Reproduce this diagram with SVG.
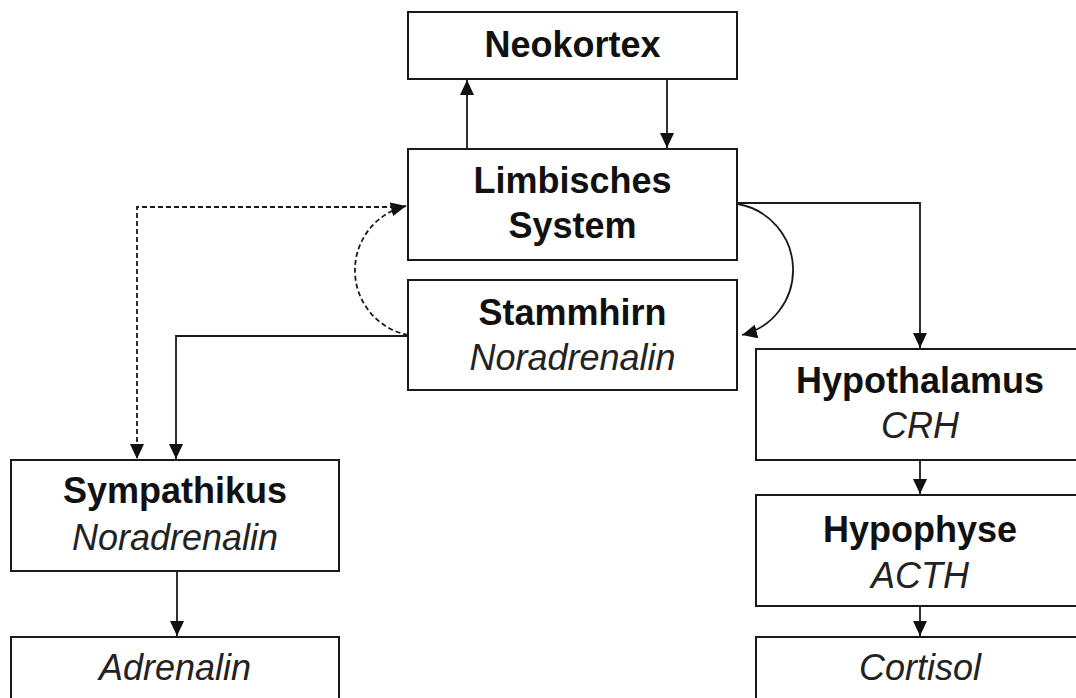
<svg xmlns="http://www.w3.org/2000/svg" width="1076" height="698" viewBox="0 0 1076 698">
  <style>
    .box { fill: #ffffff; stroke: #1a1a1a; stroke-width: 2; }
    .t { font-family: "Liberation Sans", Arial, sans-serif; font-size: 36px; fill: #111111; text-anchor: middle; }
    .b { font-weight: bold; }
    .i { font-style: italic; fill: #222222; }
    .edge { fill: none; stroke: #1a1a1a; stroke-width: 1.8; marker-end: url(#arrow); }
    .dash { stroke-dasharray: 5 3; }
  </style>
  <defs>
    <marker id="arrow" markerUnits="userSpaceOnUse" markerWidth="15" markerHeight="14" refX="15" refY="7" orient="auto">
      <path d="M0,0 L15,7 L0,14 z" fill="#111111"/>
    </marker>
  </defs>
  <rect width="1076" height="698" fill="#ffffff"/>

  <g id="connectors">
    <path class="edge" d="M467,149 V80"/>
    <path class="edge" d="M667,80 V148"/>
    <path class="edge" d="M738,203 H920 V348"/>
    <path class="edge" d="M738,204 A67,67 0 0 1 742,335"/>
    <path class="edge dash" d="M408,335 A66,66 0 0 1 406,206"/>
    <path class="edge dash" d="M395,207 H137 V459"/>
    <path class="edge" d="M408,336 H176 V459"/>
    <path class="edge" d="M177,572 V636"/>
    <path class="edge" d="M920,461 V494"/>
    <path class="edge" d="M920,607 V636"/>
  </g>

  <g id="neokortex">
    <rect class="box" x="408" y="12" width="329" height="67"/>
    <text class="t b" x="572.5" y="57">Neokortex</text>
  </g>
  <g id="limbisches-system">
    <rect class="box" x="408" y="149" width="329" height="111"/>
    <text class="t b" x="572.5" y="193">Limbisches</text>
    <text class="t b" x="572.5" y="238">System</text>
  </g>
  <g id="stammhirn">
    <rect class="box" x="408" y="280" width="329" height="110"/>
    <text class="t b" x="572.5" y="325">Stammhirn</text>
    <text class="t i" x="572.5" y="370">Noradrenalin</text>
  </g>
  <g id="sympathikus">
    <rect class="box" x="11" y="460" width="328" height="111"/>
    <text class="t b" x="175" y="503">Sympathikus</text>
    <text class="t i" x="175" y="550">Noradrenalin</text>
  </g>
  <g id="adrenalin">
    <rect class="box" x="11" y="637" width="328" height="80"/>
    <text class="t i" x="175" y="680">Adrenalin</text>
  </g>
  <g id="hypothalamus">
    <rect class="box" x="756" y="349" width="330" height="111"/>
    <text class="t b" x="920" y="393">Hypothalamus</text>
    <text class="t i" x="920" y="438">CRH</text>
  </g>
  <g id="hypophyse">
    <rect class="box" x="756" y="495" width="330" height="111"/>
    <text class="t b" x="920" y="542">Hypophyse</text>
    <text class="t i" x="920" y="588">ACTH</text>
  </g>
  <g id="cortisol">
    <rect class="box" x="756" y="637" width="330" height="80"/>
    <text class="t i" x="920" y="680">Cortisol</text>
  </g>
</svg>
